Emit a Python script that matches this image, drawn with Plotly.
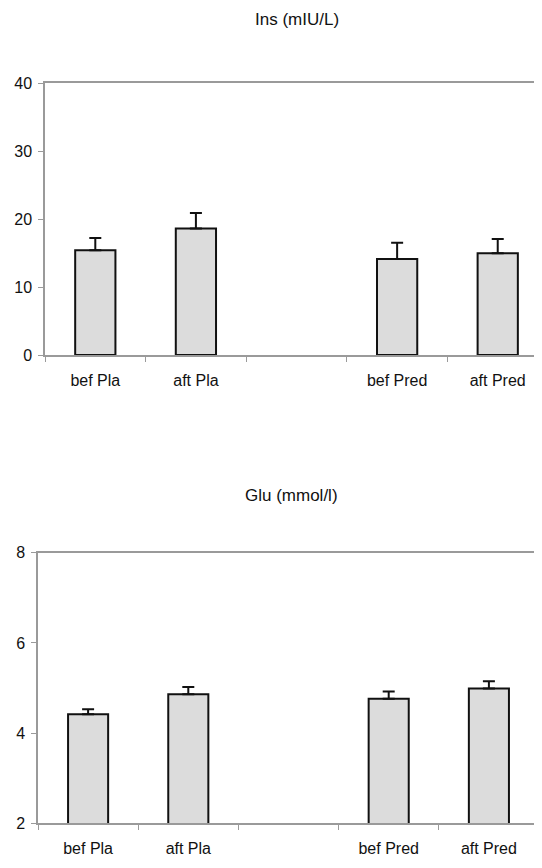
import plotly.graph_objects as go

categories = ["bef Pla", "aft Pla", " ", "bef Pred", "aft Pred"]
ins_values = [15.4, 18.6, None, 14.1, 14.95]
ins_err = [1.8, 2.3, None, 2.4, 2.1]
glu_values = [4.42, 4.86, None, 4.76, 4.99]
glu_err = [0.11, 0.16, None, 0.16, 0.16]
ins_ticks = [0, 10, 20, 30, 40]
glu_ticks = [2, 4, 6, 8]

OFF = 8  # page body margin
W, H = 542 - OFF, 868 - OFF
FONT = "Liberation Sans, Arial, sans-serif"
AXC = "#9a9a9a"

fig = go.Figure()

def bar(y, err, xa, ya):
    return go.Bar(
        x=categories, y=y, xaxis=xa, yaxis=ya, width=0.4,
        marker=dict(color="#dcdcdc", line=dict(color="#111111", width=2)),
        error_y=dict(type="data", symmetric=False, array=err,
                     arrayminus=[0 if e is not None else None for e in err],
                     color="#111111", thickness=2, width=6),
        showlegend=False, hoverinfo="skip",
    )

fig.add_trace(bar(ins_values, ins_err, "x", "y"))
fig.add_trace(bar(glu_values, glu_err, "x2", "y2"))

def px_x(p):
    return (p - OFF) / W

def px_y(p):
    return 1 - (p - OFF) / H

xcommon = dict(type="category", categoryorder="array", categoryarray=categories,
               showline=True, linecolor=AXC, linewidth=1.5, mirror=True,
               ticks="outside", tickson="boundaries", ticklen=5, tickcolor=AXC,
               showgrid=False, zeroline=False, fixedrange=True, automargin=False,
               tickfont=dict(family=FONT, size=16, color="#111111"),
               ticklabelstandoff=10)
ycommon = dict(showline=True, linecolor=AXC, linewidth=1.5,
               ticks="outside", ticklen=5, tickcolor=AXC, automargin=False,
               showgrid=False, zeroline=False, fixedrange=True,
               tickfont=dict(family=FONT, size=16, color="#111111"),
               ticklabelstandoff=3)

fig.update_layout(
    width=W, height=H,
    margin=dict(l=0, r=0, t=0, b=0, autoexpand=False),
    paper_bgcolor="white", plot_bgcolor="white",
    bargap=0.6,
    xaxis=dict(xcommon, domain=[px_x(45), 1.0], range=[-0.5, 4.44], anchor="y"),
    yaxis=dict(ycommon, domain=[px_y(355), px_y(83)], range=[0, 40],
               tickvals=ins_ticks, mirror=False, anchor="x"),
    xaxis2=dict(xcommon, domain=[px_x(38), px_x(539)], range=[-0.5, 4.5], anchor="y2"),
    yaxis2=dict(ycommon, domain=[px_y(823.3), px_y(552.7)], range=[2, 8],
                tickvals=glu_ticks, mirror=True, anchor="x2"),
    annotations=[
        dict(text="Ins (mIU/L)", x=px_x(297), y=px_y(20), xref="paper", yref="paper",
             xanchor="center", yanchor="middle",
             showarrow=False, font=dict(family=FONT, size=17, color="#111111")),
        dict(text="Glu (mmol/l)", x=px_x(291), y=px_y(496), xref="paper", yref="paper",
             xanchor="center", yanchor="middle",
             showarrow=False, font=dict(family=FONT, size=17, color="#111111")),
    ],
)

fig.write_html("out.html")
